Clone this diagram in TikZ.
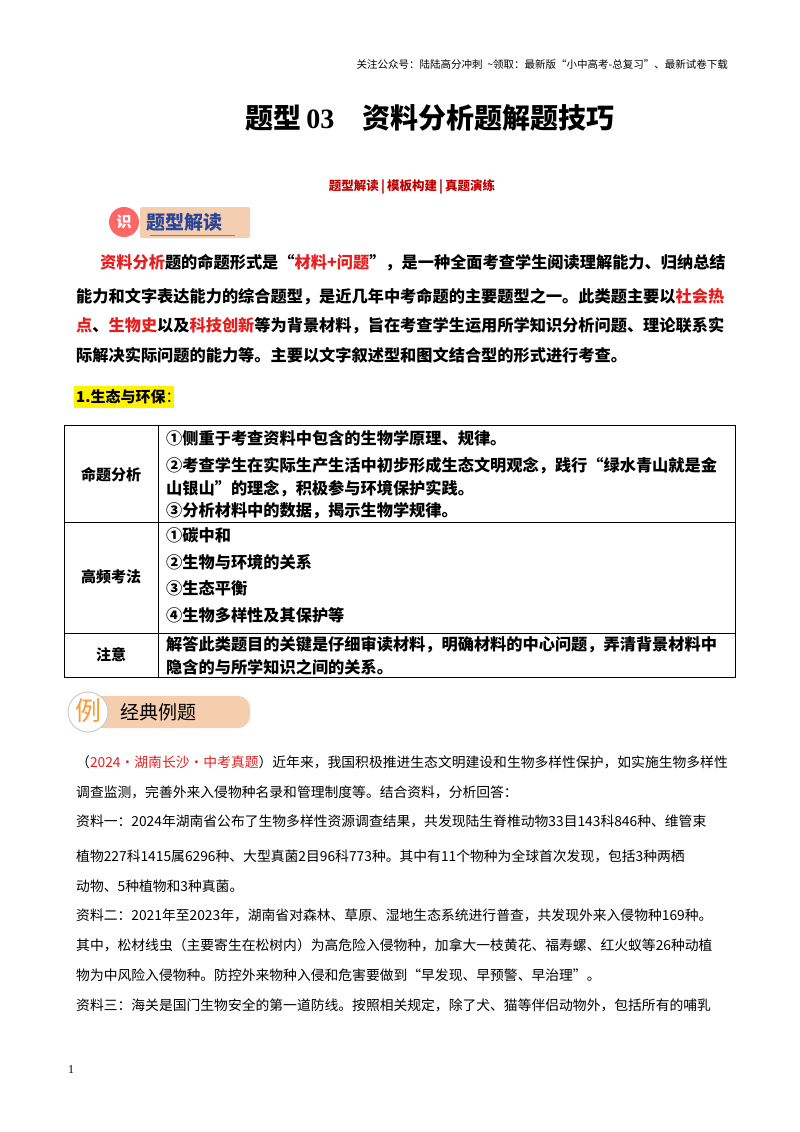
\documentclass[tikz,border=0pt]{standalone}
\usepackage{fontspec}
\setmainfont{Noto Sans CJK SC}
\newfontfamily\ser{Liberation Serif}
\definecolor{myred}{RGB}{230,30,30}
\definecolor{dred}{RGB}{190,0,0}
\definecolor{bblue}{RGB}{40,70,150}
\definecolor{peach}{RGB}{245,205,175}
\begin{document}
\begin{tikzpicture}[x=1pt,y=-1pt,
  tl/.style={anchor=west,inner sep=0pt},
  body/.style={tl,font=\fontsize{16.2}{18}\selectfont\bfseries},
  cell/.style={tl,font=\fontsize{16.2}{17}\selectfont\bfseries},
  lab/.style={inner sep=0pt,font=\fontsize{15}{17}\selectfont\bfseries},
  ex/.style={tl,font=\fontsize{13.8}{16}\selectfont},
  grid/.style={draw=black,line width=0.6pt}]
\useasboundingbox (0,0) rectangle (800,1132);
\node[anchor=east,inner sep=0pt,font=\fontsize{10.5}{12}\selectfont] (hdr) at (728,64) {关注公众号：陆陆高分冲刺\ \ \string~领取：最新版“小中高考-总复习”、最新试卷下载};
\node[inner sep=0pt,font=\fontsize{28}{30}\selectfont\bfseries] (title) at (430,118) {题型\,{\ser\bfseries 03}\quad 资料分析题解题技巧};
\node[inner sep=0pt,text=dred,font=\fontsize{12.5}{14}\selectfont\bfseries] (sub) at (412,187) {题型解读\,|\,模板构建\,|\,真题演练};
% badge 1
\fill[peach,rounded corners=2pt] (140,207) rectangle (250,238);
\fill[red!60!white] (124,222) circle (15);
\node[text=white,font=\fontsize{15}{15}\selectfont\bfseries] (b1i) at (124,222) {识};
\node[tl,text=bblue,font=\fontsize{19}{20}\selectfont\bfseries] (b1) at (146,222) {题型解读};
\draw[red!70,line width=0.8pt] (150,235) -- (235,235);
% paragraph
\node[body] (p1) at (100,263) {\textcolor{myred}{资料分析}题的命题形式是“\textcolor{myred}{材料+问题}”，是一种全面考查学生阅读理解能力、归纳总结};
\node[body] (p2) at (76,297) {能力和文字表达能力的综合题型，是近几年中考命题的主要题型之一。此类题主要以\textcolor{myred}{社会热}};
\node[body] (p3) at (76,326) {\textcolor{myred}{点}、\textcolor{myred}{生物史}以及\textcolor{myred}{科技创新}等为背景材料，旨在考查学生运用所学知识分析问题、理论联系实};
\node[body] (p4) at (76,355) {际解决实际问题的能力等。主要以文字叙述型和图文结合型的形式进行考查。};
\fill[yellow] (74,386) rectangle (174,408);
\node[tl,font=\fontsize{15}{17}\selectfont\bfseries] (h1) at (76,397) {1.生态与环保\textmd{：}};
% table
\draw[grid] (64,425) rectangle (735,677);
\draw[grid] (64,522) -- (735,522);
\draw[grid] (64,633) -- (735,633);
\draw[grid] (158,425) -- (158,677);
\node[lab] (l1) at (111,475) {命题分析};
\node[lab] (l2) at (111,577) {高频考法};
\node[lab] (l3) at (111,655) {注意};
\node[cell] (c11) at (166,438) {①侧重于考查资料中包含的生物学原理、规律。};
\node[cell] (c12) at (166,466) {②考查学生在实际生产生活中初步形成生态文明观念，践行“绿水青山就是金};
\node[cell] (c13) at (166,489) {山银山”的理念，积极参与环境保护实践。};
\node[cell] (c14) at (166,511) {③分析材料中的数据，揭示生物学规律。};
\node[cell] (c21) at (166,535) {①碳中和};
\node[cell] (c22) at (166,562) {②生物与环境的关系};
\node[cell] (c23) at (166,588) {③生态平衡};
\node[cell] (c24) at (166,615) {④生物多样性及其保护等};
\node[cell] (c31) at (166,645) {解答此类题目的关键是仔细审读材料，明确材料的中心问题，弄清背景材料中};
\node[cell] (c32) at (166,667) {隐含的与所学知识之间的关系。};
% badge 2
\fill[peach,rounded corners=12pt] (90,696) rectangle (250,728);
\fill[white] (88,712) circle (20);
\draw[gray!40,line width=1pt] (88,712) circle (20);
\node[text=orange!80,font=\fontsize{26}{26}\selectfont] (b2i) at (88,711) {例};
\node[tl,font=\fontsize{19}{20}\selectfont] (b2) at (120,712) {经典例题};
% example text
\node[ex] (e1) at (76,762) {（\textcolor{myred}{2024·湖南长沙·中考真题}）近年来，我国积极推进生态文明建设和生物多样性保护，如实施生物多样性};
\node[ex] (e2) at (76,792) {调查监测，完善外来入侵物种名录和管理制度等。结合资料，分析回答：};
\node[ex] (e3) at (76,821) {资料一：2024年湖南省公布了生物多样性资源调查结果，共发现陆生脊椎动物33目143科846种、维管束};
\node[ex] (e4) at (76,856) {植物227科1415属6296种、大型真菌2目96科773种。其中有11个物种为全球首次发现，包括3种两栖};
\node[ex] (e5) at (76,886) {动物、5种植物和3种真菌。};
\node[ex] (e6) at (76,915) {资料二：2021年至2023年，湖南省对森林、草原、湿地生态系统进行普查，共发现外来入侵物种169种。};
\node[ex] (e7) at (76,945) {其中，松材线虫（主要寄生在松树内）为高危险入侵物种，加拿大一枝黄花、福寿螺、红火蚁等26种动植};
\node[ex] (e8) at (76,975) {物为中风险入侵物种。防控外来物种入侵和危害要做到“早发现、早预警、早治理”。};
\node[ex] (e9) at (76,1005) {资料三：海关是国门生物安全的第一道防线。按照相关规定，除了犬、猫等伴侣动物外，包括所有的哺乳};
\node[tl,font=\ser\fontsize{12}{14}\selectfont] (pg) at (68,1070) {1};
\end{tikzpicture}
\end{document}
